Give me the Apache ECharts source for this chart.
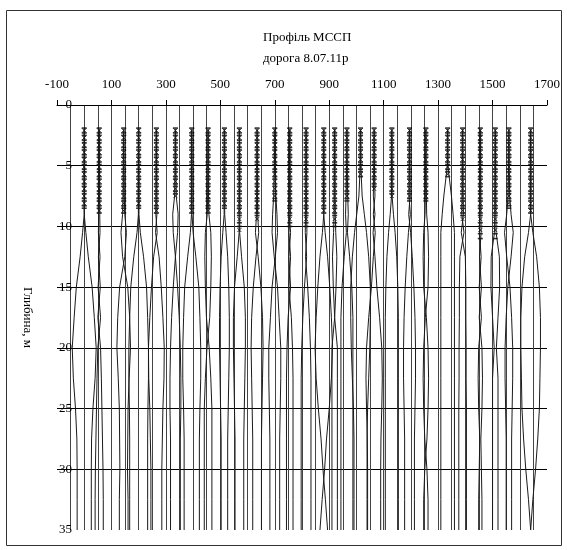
<!DOCTYPE html>
<html>
<head>
<meta charset="utf-8">
<script src="https://cdn.jsdelivr.net/npm/echarts@6/dist/echarts.min.js"></script>
<style>
  html, body { margin: 0; padding: 0; background: #fff; }
  #container { width: 567px; height: 550px; }
</style>
</head>
<body>
<div id="container"></div>
<script>
const DEPTHS = [2, 5, 7.5, 9, 10.5, 12.5, 15, 17.5, 20, 22.5, 25, 27.5, 30, 32.5, 35];

// trace positions along the profile (m)
const TRACE_X = [0, 55, 145, 200, 265, 335, 395, 455, 515, 570, 635, 700, 755, 815,
  880, 920, 965, 1015, 1065, 1130, 1195, 1255, 1335, 1390, 1455, 1510, 1560, 1640];

// signed half-width of each trace at DEPTHS (m on the x scale)
const HALF_WIDTH = [
  [0.5, 1, 1, 0, 6, 15, 29, 37, 44, 40, 32, 27, 26, 26, 26],
  [0.5, 1, 1.5, 2, 3, -3, 4, -5, 5, 8, 10, 12, 14, 15, 15],
  [0.5, 1, 2, 4, 10, 4, -15, -22, -25, -20, -16, -15, -14, -16, -16],
  [0.5, 1, 1.5, 1, 6, 18, 29, 33, 36, 36, 34, 33, 33, 33, 33],
  [0.5, 1, 1.5, 2, -3, 10, 18, 24, 29, 28, 24, 22, 20, 20, 20],
  [0.5, 1, 3, 10, 8, 0, -8, -14, -18, -20, -20, -18, -18, -18, -18],
  [0.5, 1, 1, 1, 5, 15, 26, 30, 33, 33, 30, 28, 28, 28, 28],
  [0.5, 1, 1.5, 3, 10, 12, 10, 6, -4, -10, -14, -14, -14, -14, -14],
  [0.5, 1, 1.5, 1, 6, 12, 16, 18, 18, 16, 14, 12, 12, 12, 12],
  [0.5, 1, 1, 1.5, 1, 8, 18, 22, 22, 20, 18, 16, 16, 16, 16],
  [0.5, 1, 1.5, 2, 6, -4, -14, -20, -22, -20, -18, -16, -16, -16, -16],
  [0.5, 1, 4, 8, 10, 2, -10, -16, -22, -22, -20, -18, -18, -18, -18],
  [0.5, 1, 1.5, 2, -3, 3, -3, 6, 10, 12, 12, 12, 12, 12, 12],
  [0.5, 1, 1, 2, 3, -2, 6, 12, 16, 18, 18, 18, 18, 18, 18],
  [0.5, 1, 1, 0, 5, 14, 22, 28, 32, 28, 20, 10, 3, -6, -14],
  [0.5, 1, 1.5, 2, 4, 8, 5, 0, 10, 10, 10, 10, 10, 10, 10],
  [0.5, 1, 3, 5, 2, 10, 18, 22, 22, 22, 22, 22, 22, 22, 22],
  [0.5, 1, 6, 14, 22, 30, 36, 36, 34, 30, 26, 24, 24, 24, 24],
  [0.5, 1, 3, -3, 4, -3, -10, -20, -28, -30, -28, -25, -24, -24, -24],
  [0.5, 1, 1, 6, 12, 18, 22, 24, 24, 24, 24, 24, 24, 24, 24],
  [0.5, 1, 2, -3, 4, 10, 16, 20, 22, 22, 20, 18, 18, 18, 18],
  [0.5, 1, 2, 3, 8, 10, 8, -2, -8, -10, -8, -4, 4, 8, 8],
  [0.5, 1, 14, 20, 25, 25, 25, 25, 25, 25, 25, 25, 25, 25, 25],
  [0.5, 1, 1.5, 3, -5, 10, 12, 12, 13, 13, 14, 14, 14, 14, 14],
  [0.5, 1, 1.5, 2, 3, -3, 4, -4, 6, 8, 6, 2, 4, 6, 6],
  [0.5, 1, 1.5, 2, 3, 15, 16, 10, 4, 10, 10, 10, 10, 10, 10],
  [0.5, 1, 3, 8, 16, 8, -4, -10, -14, -14, -12, -10, -10, -10, -10],
  [0.5, 1, 1, 0, 8, 22, 32, 36, 36, 34, 32, 26, 18, 8, 0]
];

// sample depths carrying point markers in the upper part of each trace
const MARK_DEPTHS = [1.9, 2.1, 2.3, 2.5, 2.7, 2.9, 3.1, 3.3, 3.5, 3.7, 3.9, 4.1, 4.3,
  4.5, 4.7, 4.9, 5.1, 5.3, 5.5, 5.7, 5.9, 6.1, 6.3, 6.5, 6.7, 6.9, 7.1, 7.3, 7.5,
  7.7, 7.9, 8.1, 8.3, 8.5, 8.7, 8.9, 9.1, 9.4, 9.7, 10, 10.3, 10.6, 11];
// deepest marker of each trace (m)
const MARK_END = [8.5, 9, 9, 8.5, 9, 7.5, 9, 9, 8.5, 10.5, 9.5, 8, 10, 10,
  9, 10, 8, 6, 7, 7.5, 8, 8, 6, 9.5, 11, 11, 8.5, 9];

const X_TICKS = [-100, 100, 300, 500, 700, 900, 1100, 1300, 1500, 1700];
const Y_TICKS = [0, 5, 10, 15, 20, 25, 30, 35];

const FONT = "'Liberation Serif', 'DejaVu Serif', serif";

const dom = document.getElementById("container");
const myChart = echarts.init(dom, null, { renderer: "canvas" });

const series = [];
TRACE_X.forEach((x0, i) => {
  [-1, 1].forEach((side) => {
    series.push({
      type: "line",
      silent: true,
      showSymbol: false,
      lineStyle: { color: "#1a1a1a", width: 1 },
      data: DEPTHS.map((d, k) => [x0 + side * HALF_WIDTH[i][k], d]),
    });
  });
});

// alternate dash and cross marks, like the spreadsheet point markers
const dashes = [];
const crosses = [];
TRACE_X.forEach((x0, i) => {
  MARK_DEPTHS.filter((d) => d <= MARK_END[i]).forEach((d, k) => {
    (k % 3 === 1 ? crosses : dashes).push([x0, d]);
  });
});
series.push({
  type: "scatter",
  silent: true,
  symbol: "rect",
  symbolSize: [5, 1.6],
  itemStyle: { color: "#000" },
  data: dashes,
});
series.push({
  type: "scatter",
  silent: true,
  symbol: "path://M0,0L2,2M2,0L0,2",
  symbolSize: 4,
  itemStyle: { color: "none", borderColor: "#000", borderWidth: 1 },
  data: crosses,
});

const option = {
  animation: false,
  title: {
    text: "Профіль МССП\nдорога 8.07.11р",
    left: 258,
    top: 22,
    textStyle: {
      fontFamily: FONT,
      fontSize: 13,
      fontWeight: "normal",
      lineHeight: 21,
      color: "#000",
    },
  },
  grid: { left: 57, right: 20, top: 105, bottom: 20 },
  xAxis: {
    type: "value",
    position: "top",
    min: X_TICKS[0],
    max: X_TICKS[X_TICKS.length - 1],
    interval: 200,
    axisLine: { show: true, lineStyle: { color: "#000", width: 1 } },
    axisTick: { show: true, inside: false, length: 5, lineStyle: { color: "#000" } },
    axisLabel: {
      margin: 14,
      fontFamily: FONT,
      fontSize: 13,
      color: "#000",
      showMinLabel: true,
      showMaxLabel: true,
      formatter: (v) => String(v),
    },
    splitLine: {
      show: true,
      showMinLine: false,
      showMaxLine: false,
      lineStyle: { color: "#444", width: 1 },
    },
    minorTick: { show: false, splitNumber: 4 },
    minorSplitLine: { show: true, lineStyle: { color: "#444", width: 1 } },
  },
  yAxis: {
    type: "value",
    inverse: true,
    min: Y_TICKS[0],
    max: Y_TICKS[Y_TICKS.length - 1],
    interval: 5,
    name: "Глибина, м",
    nameLocation: "middle",
    nameRotate: -90,
    nameGap: 23,
    nameTextStyle: { fontFamily: FONT, fontSize: 13, color: "#000" },
    axisLine: { show: false },
    axisTick: { show: false },
    axisLabel: {
      margin: -15,
      fontFamily: FONT,
      fontSize: 13,
      color: "#000",
      formatter: (v) => String(v),
    },
    splitLine: {
      show: true,
      showMinLine: false,
      showMaxLine: false,
      lineStyle: { color: "#000", width: 1 },
    },
  },
  graphic: [
    {
      type: "rect",
      shape: { x: 6.5, y: 10.5, width: 555, height: 535 },
      style: { fill: "none", stroke: "#333", lineWidth: 1 },
      silent: true,
    },
  ],
  series: series,
};

myChart.setOption(option);
</script>
</body>
</html>
